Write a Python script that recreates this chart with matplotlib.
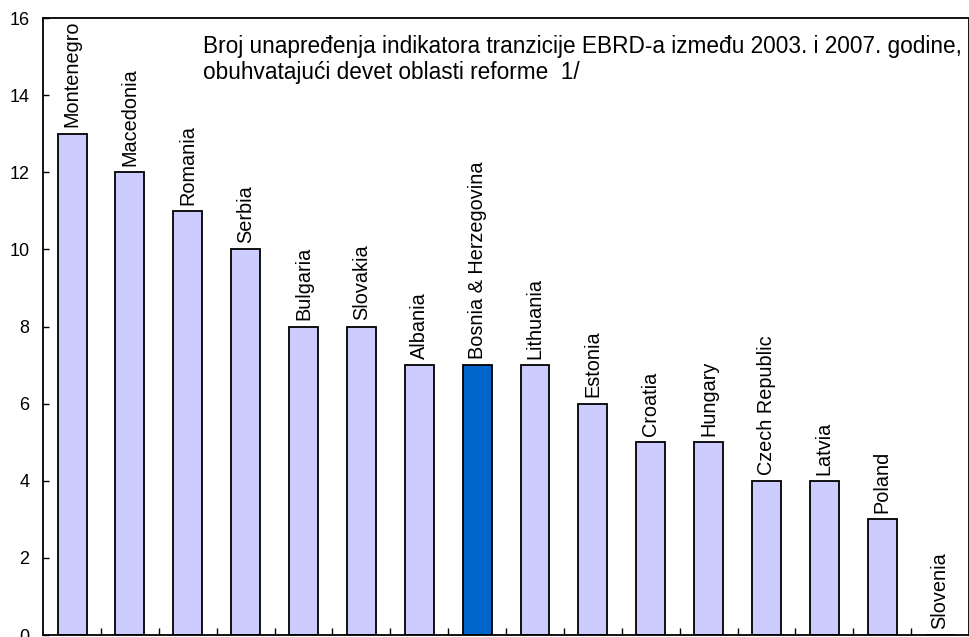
import numpy as np
import matplotlib
matplotlib.use("Agg")
import matplotlib.pyplot as plt
from matplotlib.ticker import FixedLocator, NullFormatter

plt.rcParams["font.family"] = ["Liberation Sans", "DejaVu Sans"]

# data
countries = ["Montenegro", "Macedonia", "Romania", "Serbia", "Bulgaria", "Slovakia",
             "Albania", "Bosnia & Herzegovina", "Lithuania", "Estonia", "Croatia",
             "Hungary", "Czech Republic", "Latvia", "Poland", "Slovenia"]
upgrades = [13, 12, 11, 10, 8, 8, 7, 7, 7, 6, 5, 5, 4, 4, 3, 0]
highlight = "Bosnia & Herzegovina"

title = ("Broj unapređenja indikatora tranzicije EBRD-a između 2003. i 2007. godine,\n"
         "obuhvatajući devet oblasti reforme  1/")

fig = plt.figure(figsize=(9.7, 6.37), dpi=100)
ax = fig.add_axes([0.0445, 0.003, 0.9545, 0.9687])

x = np.arange(len(countries))
colors = ["#0066CC" if c == highlight else "#CCCCFF" for c in countries]
ax.bar(x, upgrades, width=0.5, color=colors, edgecolor="black", linewidth=1.3, zorder=2)

for xi, v, name in zip(x, upgrades, countries):
    ax.annotate(name, (xi, v), xytext=(0, 4.5), textcoords="offset points",
                rotation=90, ha="center", va="bottom", fontsize=14.3)

ax.set_xlim(-0.5, len(countries) - 0.5)
ax.set_ylim(0, 16)
ax.set_yticks(np.arange(0, 17, 2))
ax.tick_params(axis="y", direction="in", length=4, width=1, labelsize=13, pad=10)
ax.xaxis.set_major_locator(FixedLocator(np.arange(0.5, len(countries) - 0.5, 1)))
ax.xaxis.set_major_formatter(NullFormatter())
ax.tick_params(axis="x", direction="in", length=5, width=1)
for sp in ax.spines.values():
    sp.set_linewidth(1.3)

ax.text(0.173, 0.972, title, transform=ax.transAxes, ha="left", va="top",
        fontsize=16.3, linespacing=1.15)

fig.savefig("out.png", dpi=100)
